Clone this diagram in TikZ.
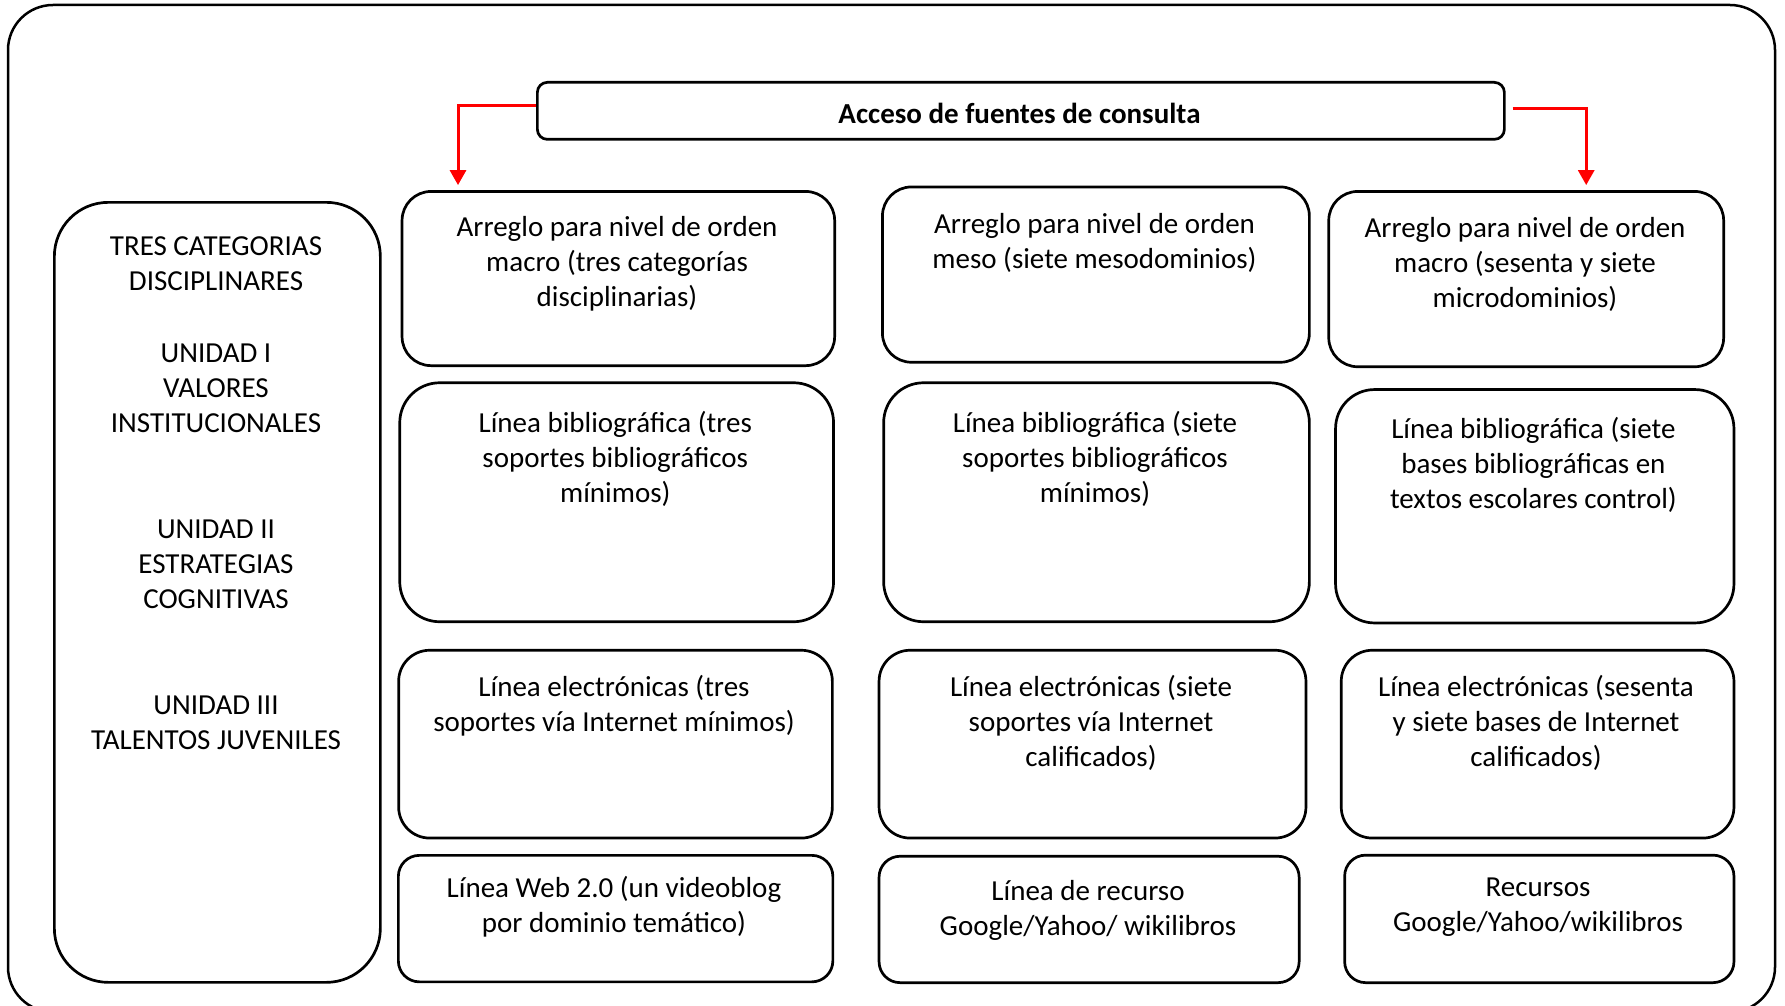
\documentclass[tikz,border=0pt]{standalone}
\usepackage{fontspec}
\setmainfont{Carlito}
\usetikzlibrary{arrows.meta}

\tikzset{
  caja/.style={draw,line width=2.7pt,rounded corners=#1,inner sep=0pt,anchor=north west},
  texto/.style={align=center,inner sep=0pt,yshift=-2pt,font=\fontsize{29}{35}\selectfont},
  flecha/.style={red,line width=3pt,-{Triangle[width=16pt,length=15pt]}}
}

\begin{document}
\begin{tikzpicture}[x=1pt,y=-1pt]
\useasboundingbox (0,0) rectangle (1785,1006);
\draw[line width=2.5pt,rounded corners=45pt] (8,5) rectangle (1775,1012);

% titulo
\node[caja=10pt,minimum width=967pt,minimum height=57pt] (acceso) at (536,81) {};
\node[texto,font=\fontsize{29}{35}\selectfont\bfseries] (tacceso) at (1019.5,111.5) {Acceso de fuentes de consulta};

% columna izquierda
\node[caja=54pt,minimum width=326pt,minimum height=780pt] (uni) at (53,201) {};
\node[texto] (tuni1) at (216,262) {TRES CATEGORIAS\\DISCIPLINARES};
\node[texto] (tuni2) at (216,386) {UNIDAD I\\VALORES\\INSTITUCIONALES};
\node[texto] (tuni3) at (216,562) {UNIDAD II\\ESTRATEGIAS\\COGNITIVAS};
\node[texto] (tuni4) at (216,721) {UNIDAD III\\TALENTOS JUVENILES};

% fila 1
\node[caja=29pt,minimum width=432.6pt,minimum height=174.2pt] (ord1) at (400.7,190.1) {};
\node[caja=29pt,minimum width=426.9pt,minimum height=175.3pt] (ord2) at (881.1,185.6) {};
\node[caja=29pt,minimum width=394.9pt,minimum height=175.3pt] (ord3) at (1327.4,190.1) {};
\node[texto] (tord1) at (617,262) {Arreglo para nivel de orden\\macro (tres categorías\\disciplinarias)};
\node[texto] (tord2) at (1094.5,240.5) {Arreglo para nivel de orden\\meso (siete mesodominios)};
\node[texto] (tord3) at (1525,262) {Arreglo para nivel de orden\\macro (sesenta y siete\\microdominios)};

% fila 2
\node[caja=40pt,minimum width=433.8pt,minimum height=239pt] (bib1) at (398.4,381.4) {};
\node[caja=40pt,minimum width=425.7pt,minimum height=239pt] (bib2) at (882.3,381.4) {};
\node[caja=39pt,minimum width=398.4pt,minimum height=233.4pt] (bib3) at (1334.2,388.2) {};
\node[texto] (tbib1) at (615.3,456.5) {Línea bibliográfica (tres\\soportes bibliográficos\\mínimos)};
\node[texto] (tbib2) at (1095,456.5) {Línea bibliográfica (siete\\soportes bibliográficos\\mínimos)};
\node[texto] (tbib3) at (1533.4,462.5) {Línea bibliográfica (siete\\bases bibliográficas en\\textos escolares control)};

% fila 3
\node[caja=31pt,minimum width=433.7pt,minimum height=187.8pt] (ele1) at (397.3,648.9) {};
\node[caja=31pt,minimum width=426.9pt,minimum height=187.8pt] (ele2) at (877.7,648.9) {};
\node[caja=31pt,minimum width=392.7pt,minimum height=187.8pt] (ele3) at (1339.9,648.9) {};
\node[texto] (tele1) at (614,703.5) {Línea electrónicas (tres\\soportes vía Internet mínimos)};
\node[texto] (tele2) at (1091,721) {Línea electrónicas (siete\\soportes vía Internet\\calificados)};
\node[texto] (tele3) at (1536,721) {Línea electrónicas (sesenta\\y siete bases de Internet\\calificados)};

% fila 4
\node[caja=21pt,minimum width=434.5pt,minimum height=126.5pt] (web1) at (397,854) {};
\node[caja=21pt,minimum width=420.1pt,minimum height=126.4pt] (web2) at (877.7,854.9) {};
\node[caja=21pt,minimum width=389.3pt,minimum height=127.5pt] (web3) at (1343.3,853.8) {};
\node[texto] (tweb1) at (614,905) {Línea Web 2.0 (un videoblog\\por dominio temático)};
\node[texto] (tweb2) at (1088,908) {Línea de recurso\\Google/Yahoo/ wikilibros};
\node[texto] (tweb3) at (1538,905.5) {Recursos\\Google/Yahoo/wikilibros};

% flechas
\draw[flecha] ([yshift=5.5pt]acceso.west) -| ([xshift=57.3pt,yshift=5pt]ord1.north west);
\draw[flecha] ([xshift=7pt,yshift=2.5pt]acceso.east) -| ([xshift=60pt,yshift=5pt]ord3.north);
\end{tikzpicture}
\end{document}
